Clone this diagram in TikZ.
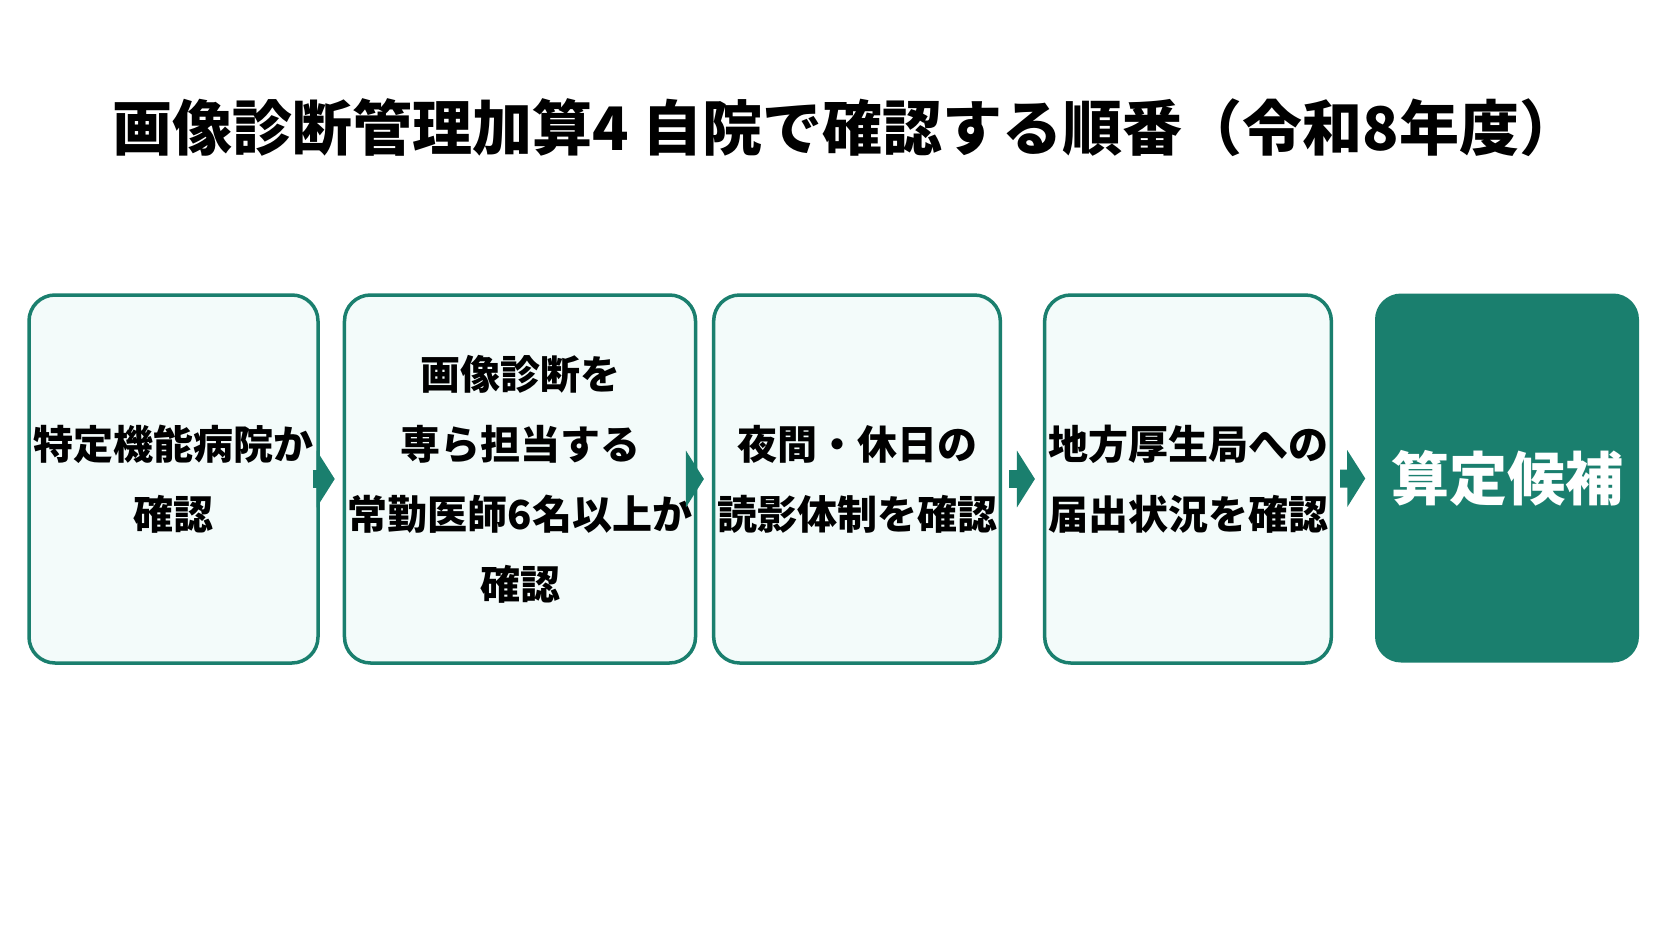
\documentclass[tikz,border=0pt]{standalone}
\usepackage{fontspec}
\setmainfont{Noto Sans CJK JP}
\usetikzlibrary{arrows.meta}
\definecolor{teal1}{HTML}{1A7F6E}
\definecolor{paleteal}{HTML}{F3FBFA}
\tikzset{
  checkbox/.style={draw=teal1, line width=3.5pt, fill=paleteal, rounded corners=26pt,
    minimum height=368pt, align=center, font=\fontsize{40}{70}\selectfont\bfseries},
  goal/.style={checkbox, draw=none, fill=teal1, text=white, font=\fontsize{58}{70}\selectfont\bfseries},
  flow/.style={draw=teal1, line width=18pt, -{Triangle[length=18pt,width=56pt]},
    shorten <=7pt, shorten >=8pt}
}
\begin{document}
\begin{tikzpicture}[x=1pt,y=-1pt]
  \useasboundingbox[fill=white] (0,0) rectangle (1672,941);
  \node (title) at (846,128) {\fontsize{60}{70}\selectfont\bfseries 画像診断管理加算4 自院で確認する順番（令和8年度）};

  \node[checkbox, minimum width=289pt] (b1) at (173.5,479) {特定機能病院か\\確認};
  \node[checkbox, minimum width=298pt] (b2) at (520,479) {画像診断を\\専ら担当する\\常勤医師6名以上か\\確認};
  \node[checkbox, minimum width=272pt] (b3) at (857,479) {夜間・休日の\\読影体制を確認};
  \node[checkbox, minimum width=266pt] (b4) at (1188,479) {地方厚生局への\\届出状況を確認};
  \node[goal, minimum width=264pt, minimum height=369pt] (b5) at (1507,478) {算定候補};

  \draw[flow] (b1) -- (b2);
  \draw[flow] (b2) -- (b3);
  \draw[flow] (b3) -- (b4);
  \draw[flow] (b4) -- (b5);
\end{tikzpicture}
\end{document}
